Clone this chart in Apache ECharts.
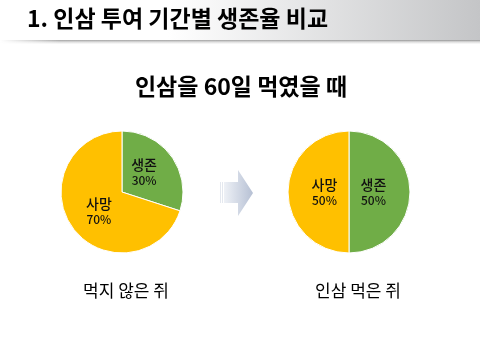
<!DOCTYPE html>
<html><head><meta charset="utf-8">
<script src="https://cdn.jsdelivr.net/npm/echarts@6/dist/echarts.min.js"></script>
<style>html,body{margin:0;padding:0;background:#fff}#c{width:480px;height:360px}</style>
</head><body><div id="c"></div>
<script>
const headerTitle = '1. 인삼 투여 기간별 생존율 비교';
const subTitle = '인삼을 60일 먹였을 때';
const categories = ['생존', '사망'];
const leftValues = [30, 70];
const rightValues = [50, 50];
const groupLabels = ['먹지 않은 쥐', '인삼 먹은 쥐'];
const colors = ['#70AD47', '#FFC000'];
const FONT = '"Noto Sans CJK KR", sans-serif';

const chart = echarts.init(document.getElementById('c'), null, {renderer: 'canvas'});

function pieSeries(values, cx, offsets) {
  return {
    type: 'pie',
    center: [cx, 192],
    radius: 61,
    startAngle: 90,
    clockwise: true,
    silent: true,
    animation: false,
    itemStyle: {borderColor: '#fff', borderWidth: 1},
    label: {
      show: true,
      position: 'inside',
      formatter: '{n|{b}}\n{p|{d}%}',
      rich: {
        n: {fontFamily: FONT, fontSize: 14, fontWeight: 500, color: '#111', lineHeight: 17},
        p: {fontFamily: FONT, fontSize: 12, fontWeight: 500, color: '#111', lineHeight: 15}
      }
    },
    labelLine: {show: false},
    data: categories.map((c, i) => ({name: c, value: values[i], itemStyle: {color: colors[i]},
      label: {offset: offsets[i]}}))
  };
}

chart.setOption({
  backgroundColor: '#fff',
  title: [
    {text: subTitle, left: 236, top: 70, textAlign: 'center',
     textStyle: {fontFamily: FONT, fontSize: 23, fontWeight: 'bold', color: '#000'}},
    {text: groupLabels[0], left: 121, top: 277, textAlign: 'center',
     textStyle: {fontFamily: FONT, fontSize: 17, fontWeight: 'normal', color: '#000'}},
    {text: groupLabels[1], left: 353, top: 277, textAlign: 'center',
     textStyle: {fontFamily: FONT, fontSize: 17, fontWeight: 'normal', color: '#000'}}
  ],
  graphic: [
    {type: 'rect', shape: {x: 0, y: 0, width: 480, height: 41}, silent: true, z: -10,
     style: {fill: new echarts.graphic.LinearGradient(0, 0, 1, 0, [
       {offset: 0, color: '#ffffff'}, {offset: 0.35, color: '#ffffff'}, {offset: 1, color: '#c4c5c7'}])}},
    {type: 'rect', shape: {x: 0, y: 40, width: 480, height: 4}, silent: true, z: -9,
     style: {fill: new echarts.graphic.LinearGradient(0, 0, 0, 1, [
       {offset: 0, color: 'rgba(150,150,150,0.9)'}, {offset: 1, color: 'rgba(230,230,230,0.2)'}])}},
    {type: 'rect', shape: {x: 0, y: 40, width: 60, height: 4}, silent: true, z: -8,
     style: {fill: new echarts.graphic.LinearGradient(0, 0, 1, 0, [
       {offset: 0, color: 'rgba(255,255,255,1)'}, {offset: 1, color: 'rgba(255,255,255,0)'}])}},
    {type: 'text', left: 27, top: 7, silent: true,
     style: {text: headerTitle, fontFamily: FONT, fontSize: 23, fontWeight: 'bold', fill: '#000'}},
    {type: 'polygon', silent: true,
     shape: {points: [[224,182],[238,182],[238,170],[253,193],[238,216],[238,203],[224,203]]},
     style: {fill: new echarts.graphic.LinearGradient(0, 0, 1, 0, [
       {offset: 0, color: '#eef1f6'}, {offset: 1, color: '#b6c0d4'}])}},
    {type: 'rect', silent: true, shape: {x: 220, y: 182, width: 1, height: 21}, style: {fill: '#e4e8ef'}},
    {type: 'rect', silent: true, shape: {x: 222, y: 182, width: 1, height: 21}, style: {fill: '#e4e8ef'}}
  ],
  series: [
    pieSeries(leftValues, 122, [[-5, 0], [4, -1]]),
    pieSeries(rightValues, 349, [[-9, 0], [9, 0]])
  ]
});
</script></body></html>
